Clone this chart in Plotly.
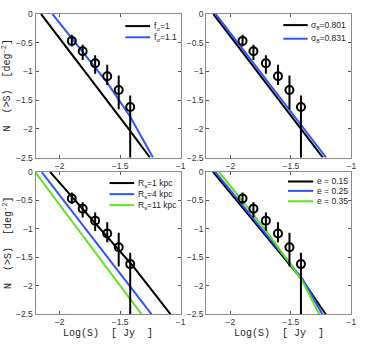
import plotly.graph_objects as go

# observed counts (same in all four panels)
s_obs = [-1.90, -1.81, -1.707, -1.607, -1.512, -1.417]
n_obs = [-0.468, -0.649, -0.857, -1.083, -1.325, -1.62]
err_up = [0.107, 0.113, 0.141, 0.198, 0.255, 0.20]
err_down = [0.096, 0.151, 0.183, 0.152, 0.335, 1.0]

# panel 1: f_sigma
p1_black_x = [-2.154, -1.79, -1.43, -1.254]
p1_black_y = [0.0, -1.0, -2.0, -2.5]
p1_blue_x = [-2.06, -1.607, -1.417, -1.228]
p1_blue_y = [0.0, -1.196, -1.79, -2.5]

# panel 2: sigma_8
p2_black_x = [-2.141, -1.236]
p2_black_y = [0.0, -2.5]
p2_blue_x = [-2.122, -1.209]
p2_blue_y = [0.0, -2.5]

# panel 3: R_s
p3_black_x = [-2.08, -1.75, -1.40, -1.084]
p3_black_y = [0.0, -0.80, -1.64, -2.5]
p3_blue_x = [-2.15, -1.241]
p3_blue_y = [0.0, -2.5]
p3_green_x = [-2.205, -1.323]
p3_green_y = [0.0, -2.5]

# panel 4: e
p4_black_x = [-2.144, -1.751, -1.405, -1.212]
p4_black_y = [0.0, -1.0, -1.9, -2.5]
p4_blue_x = [-2.125, -1.743, -1.405, -1.24]
p4_blue_y = [0.0, -1.0, -1.88, -2.5]
p4_green_x = [-2.095, -1.716, -1.41, -1.265]
p4_green_y = [0.0, -1.0, -1.9, -2.5]

legend1 = ["f<sub>σ</sub>=1", "f<sub>σ</sub>=1.1"]
legend2 = ["σ<sub>8</sub>=0.801", "σ<sub>8</sub>=0.831"]
legend3 = ["R<sub>s</sub>=1 kpc", "R<sub>s</sub>=4 kpc", "R<sub>s</sub>=11 kpc"]
legend4 = ["e = 0.15", "e = 0.25", "e = 0.35"]

x_ticks = [-2, -1.5, -1]
y_ticks = [0, -0.5, -1, -1.5, -2, -2.5]

BLACK = "#000000"
BLUE = "#3355f5"
GREEN = "#5fe01e"

W, H = 384, 351
panels = [
    # xaxis id, yaxis id, x domain px, y domain px (top, bottom)
    ("x", "y", (36, 183), (9.3, 157)),
    ("x2", "y2", (209, 356), (9.3, 157)),
    ("x3", "y3", (36, 183), (171.7, 318.3)),
    ("x4", "y4", (209, 356), (171.7, 318.3)),
]

curves = [
    [(p1_black_x, p1_black_y, BLACK), (p1_blue_x, p1_blue_y, BLUE)],
    [(p2_black_x, p2_black_y, BLACK), (p2_blue_x, p2_blue_y, BLUE)],
    [(p3_black_x, p3_black_y, BLACK), (p3_blue_x, p3_blue_y, BLUE),
     (p3_green_x, p3_green_y, GREEN)],
    [(p4_black_x, p4_black_y, BLACK), (p4_blue_x, p4_blue_y, BLUE),
     (p4_green_x, p4_green_y, GREEN)],
]

legends = [legend1, legend2, legend3, legend4]
# legend key placement in axis-domain fractions: x0, x1, text x, list of y
legend_pos = [
    (0.619, 0.789, 0.80, [0.916, 0.838]),
    (0.531, 0.699, 0.705, [0.923, 0.828]),
    (0.51, 0.68, 0.69, [0.921, 0.843, 0.766]),
    (0.563, 0.737, 0.75, [0.932, 0.866, 0.793]),
]

fig = go.Figure()
shapes = []
annotations = []

for i, (xa, ya, (xl, xr), (yt, yb)) in enumerate(panels):
    for cx, cy, col in curves[i]:
        fig.add_trace(go.Scatter(x=cx, y=cy, mode="lines", xaxis=xa, yaxis=ya,
                                 line=dict(color=col, width=2), showlegend=False))
    fig.add_trace(go.Scatter(
        x=s_obs, y=n_obs, mode="markers", xaxis=xa, yaxis=ya, showlegend=False,
        marker=dict(symbol="circle-open", size=8, color=BLACK, line=dict(width=2)),
        error_y=dict(type="data", symmetric=False, array=err_up, arrayminus=err_down,
                     color=BLACK, thickness=2, width=0),
    ))

    ax_name = "xaxis" if xa == "x" else "xaxis" + xa[1:]
    ay_name = "yaxis" if ya == "y" else "yaxis" + ya[1:]
    common = dict(showline=True, linecolor="#8a8a8a", linewidth=1, mirror="ticks",
                  ticks="inside", ticklen=3, tickcolor="#555", showgrid=False,
                  zeroline=False, tickfont=dict(family="Liberation Sans", size=8.5, color="#333"))
    fig.update_layout(**{
        ax_name: dict(domain=[xl / W, xr / W], range=[-2.2, -1], anchor=ya,
                      tickvals=x_ticks, ticktext=["\u22122", "\u22121.5", "\u22121"], **common),
        ay_name: dict(domain=[(H - yb) / H, (H - yt) / H], range=[-2.5, 0], anchor=xa,
                      tickvals=y_ticks,
                      ticktext=["0", "\u22120.5", "\u22121", "\u22121.5", "\u22122", "\u22122.5"],
                      **common),
    })

    x0, x1, tx, ys = legend_pos[i]
    for (cx, cy, col), label, yy in zip(curves[i], legends[i], ys):
        shapes.append(dict(type="line", xref=xa + " domain", yref=ya + " domain",
                           x0=x0, x1=x1, y0=yy, y1=yy, line=dict(color=col, width=2)))
        annotations.append(dict(text=label, xref=xa + " domain", yref=ya + " domain",
                                x=tx, y=yy, xanchor="left", yanchor="middle", showarrow=False,
                                font=dict(family="Liberation Sans", size=8.5, color="#222")))

title_font = dict(family="Liberation Mono", size=10, color="#222")
for yc in [(H - 83) / H, (H - 245) / H]:
    annotations.append(dict(text="N  (>S)  [deg<sup>-2</sup>]", xref="paper", yref="paper",
                            x=7 / W, y=yc, textangle=-90, showarrow=False,
                            xanchor="center", yanchor="middle", font=title_font))
for xc in [109.5 / W, 282.5 / W]:
    annotations.append(dict(text="Log(S)  [ Jy  ]", xref="paper", yref="paper",
                            x=xc, y=(H - 338) / H, showarrow=False,
                            xanchor="center", yanchor="middle", font=title_font))

fig.update_layout(width=W, height=H, margin=dict(l=0, r=0, t=0, b=0),
                  paper_bgcolor="white", plot_bgcolor="white",
                  shapes=shapes, annotations=annotations, showlegend=False)

# put the figure at the page corner with nothing to scroll
page_fix = ("document.documentElement.style.margin='0';"
            "document.body.style.margin='0';"
            "document.body.style.overflow='hidden';"
            "document.documentElement.style.overflow='hidden';")
fig.write_html("out.html", config={"displayModeBar": False}, post_script=page_fix)
